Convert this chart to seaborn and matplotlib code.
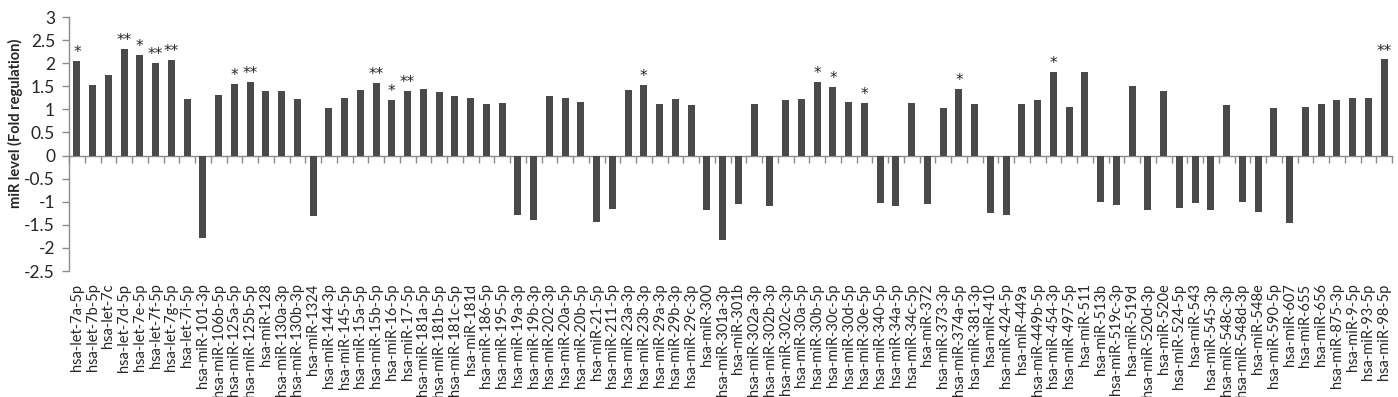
import numpy as np
import pandas as pd
import matplotlib
matplotlib.use("Agg")
import matplotlib.pyplot as plt
import seaborn as sns

labels = [
    "hsa-let-7a-5p", "hsa-let-7b-5p", "hsa-let-7c", "hsa-let-7d-5p", "hsa-let-7e-5p",
    "hsa-let-7f-5p", "hsa-let-7g-5p", "hsa-let-7i-5p", "hsa-miR-101-3p", "hsa-miR-106b-5p",
    "hsa-miR-125a-5p", "hsa-miR-125b-5p", "hsa-miR-128", "hsa-miR-130a-3p", "hsa-miR-130b-3p",
    "hsa-miR-1324", "hsa-miR-144-3p", "hsa-miR-145-5p", "hsa-miR-15a-5p", "hsa-miR-15b-5p",
    "hsa-miR-16-5p", "hsa-miR-17-5p", "hsa-miR-181a-5p", "hsa-miR-181b-5p", "hsa-miR-181c-5p",
    "hsa-miR-181d", "hsa-miR-186-5p", "hsa-miR-195-5p", "hsa-miR-19a-3p", "hsa-miR-19b-3p",
    "hsa-miR-202-3p", "hsa-miR-20a-5p", "hsa-miR-20b-5p", "hsa-miR-21-5p", "hsa-miR-211-5p",
    "hsa-miR-23a-3p", "hsa-miR-23b-3p", "hsa-miR-29a-3p", "hsa-miR-29b-3p", "hsa-miR-29c-3p",
    "hsa-miR-300", "hsa-miR-301a-3p", "hsa-miR-301b", "hsa-miR-302a-3p", "hsa-miR-302b-3p",
    "hsa-miR-302c-3p", "hsa-miR-30a-5p", "hsa-miR-30b-5p", "hsa-miR-30c-5p", "hsa-miR-30d-5p",
    "hsa-miR-30e-5p", "hsa-miR-340-5p", "hsa-miR-34a-5p", "hsa-miR-34c-5p", "hsa-miR-372",
    "hsa-miR-373-3p", "hsa-miR-374a-5p", "hsa-miR-381-3p", "hsa-miR-410", "hsa-miR-424-5p",
    "hsa-miR-449a", "hsa-miR-449b-5p", "hsa-miR-454-3p", "hsa-miR-497-5p", "hsa-miR-511",
    "hsa-miR-513b", "hsa-miR-519c-3p", "hsa-miR-519d", "hsa-miR-520d-3p", "hsa-miR-520e",
    "hsa-miR-524-5p", "hsa-miR-543", "hsa-miR-545-3p", "hsa-miR-548c-3p", "hsa-miR-548d-3p",
    "hsa-miR-548e", "hsa-miR-590-5p", "hsa-miR-607", "hsa-miR-655", "hsa-miR-656",
    "hsa-miR-875-3p", "hsa-miR-9-5p", "hsa-miR-93-5p", "hsa-miR-98-5p",
]

values = [
    2.04, 1.53, 1.75, 2.31, 2.17, 2.01, 2.06, 1.22, -1.78, 1.31,
    1.56, 1.59, 1.40, 1.40, 1.22, -1.31, 1.04, 1.25, 1.42, 1.57,
    1.20, 1.40, 1.45, 1.37, 1.28, 1.25, 1.12, 1.14, -1.28, -1.39,
    1.28, 1.25, 1.17, -1.43, -1.15, 1.42, 1.53, 1.12, 1.22, 1.09,
    -1.17, -1.83, -1.06, 1.12, -1.09, 1.20, 1.22, 1.59, 1.48, 1.17,
    1.14, -1.03, -1.09, 1.14, -1.06, 1.04, 1.45, 1.12, -1.25, -1.28,
    1.12, 1.20, 1.80, 1.06, 1.80, -1.01, -1.07, 1.50, -1.18, 1.40,
    -1.14, -1.03, -1.17, 1.09, -1.00, -1.22, 1.04, -1.45, 1.06, 1.12,
    1.20, 1.25, 1.25, 2.08,
]

significance = [
    "*", "", "", "**", "*", "**", "**", "", "", "",
    "*", "**", "", "", "", "", "", "", "", "**",
    "*", "**", "", "", "", "", "", "", "", "",
    "", "", "", "", "", "", "*", "", "", "",
    "", "", "", "", "", "", "", "*", "*", "",
    "*", "", "", "", "", "", "*", "", "", "",
    "", "", "*", "", "", "", "", "", "", "",
    "", "", "", "", "", "", "", "", "", "",
    "", "", "", "**",
]

y_ticks = [-2.5, -2, -1.5, -1, -0.5, 0, 0.5, 1, 1.5, 2, 2.5, 3]
y_tick_labels = ["-2.5", "-2", "-1.5", "-1", "-0.5", "0", "0.5", "1", "1.5", "2", "2.5", "3"]

sns.set_style("white")
plt.rcParams["font.family"] = ["Lato", "DejaVu Sans"]

df = pd.DataFrame({"miR": labels, "level": values})

fig = plt.figure(figsize=(13.98, 3.97), dpi=100)
ax = fig.add_axes([69 / 1398, 1 - 271 / 397, (1392 - 69) / 1398, (271 - 17) / 397])

bar_color = "#4a4a4a"
axis_color = "#8c8c8c"
text_color = "#262626"

sns.barplot(data=df, x="miR", y="level", color=bar_color, saturation=1,
            width=0.45, linewidth=0, ax=ax)

ymin, ymax = -2.5, 3
ax.set_ylim(ymin, ymax)
ax.set_xlim(-0.5, len(labels) - 0.5)
ax.set_yticks(y_ticks)
ax.set_yticklabels(y_tick_labels, fontsize=12.5, color=text_color)
ax.tick_params(axis="y", length=5, width=1, color=axis_color, pad=5, direction="out", left=True)

ax.set_xticks(range(len(labels)))
ax.set_xticklabels(labels, rotation=90, fontsize=10.5, color=text_color, va="top", ha="center")
ax.tick_params(axis="x", length=0, pad=9)
ax.set_xlabel("")

ax.set_ylabel("miR level (Fold regulation)", fontsize=10.5, fontweight="bold", color=text_color)
ax.yaxis.set_label_coords(-0.035, 0.58)

for s in ["top", "right", "bottom"]:
    ax.spines[s].set_visible(False)
ax.spines["left"].set_color(axis_color)
ax.spines["left"].set_linewidth(1)

# zero axis with category-boundary ticks
zero_pos = (0 - ymin) / (ymax - ymin)
sec = ax.secondary_xaxis(zero_pos)
sec.set_xticks(np.arange(len(labels) + 1) - 0.5)
sec.set_xticklabels([])
sec.tick_params(axis="x", direction="out", length=5, width=1, color=axis_color)
sec.spines["bottom"].set_color(axis_color)
sec.spines["bottom"].set_linewidth(1)
for s in ["top", "left", "right"]:
    if s in sec.spines:
        sec.spines[s].set_visible(False)

for i, (v, sig) in enumerate(zip(values, significance)):
    if sig:
        ax.text(i, v + 0.02, sig, ha="center", va="bottom", fontsize=11,
                family="DejaVu Sans", color=text_color)

fig.savefig("out.png", dpi=100)
